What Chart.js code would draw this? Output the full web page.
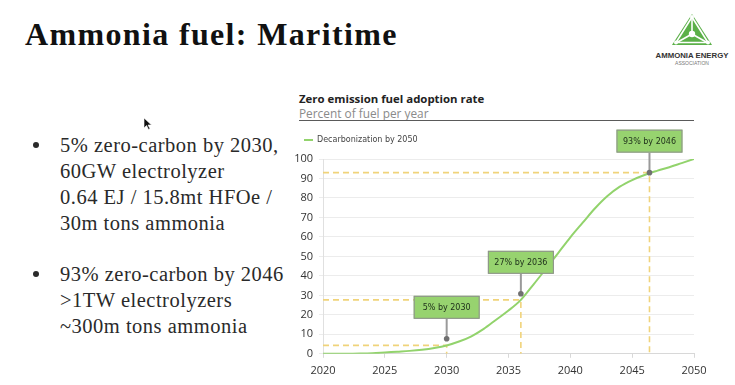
<!DOCTYPE html>
<html>
<head>
<meta charset="utf-8">
<script src="https://cdn.jsdelivr.net/npm/chart.js@4/dist/chart.umd.min.js"></script>
<style>
  html, body { margin:0; padding:0; background:#fff; }
  body { width:735px; height:385px; position:relative; overflow:hidden; }
  #slideTitle { position:absolute; left:25px; top:17px; font-family:"Liberation Serif", serif; font-weight:bold; font-size:32px; color:#111; white-space:nowrap; letter-spacing:1.35px; line-height:34px; }
  .bul { position:absolute; left:60px; font-family:"Liberation Serif", serif; font-size:20.5px; letter-spacing:0.5px; line-height:26px; color:#2a2a2a; white-space:nowrap; }
  .dot { position:absolute; left:33px; width:6px; height:6px; border-radius:50%; background:#2a2a2a; }
  #cTitle { position:absolute; left:299px; top:92px; font-family:"Open Sans", sans-serif; font-weight:bold; font-size:11.4px; line-height:14px; color:#222; white-space:nowrap; }
  #cSub { position:absolute; left:299px; top:105.5px; font-family:"Open Sans", sans-serif; font-size:11.85px; line-height:15px; color:#8a8a8a; white-space:nowrap; }
  #cRule { position:absolute; left:299px; top:120px; width:395px; height:1px; background:#5a5a5a; }
  #chartBox { position:absolute; left:290px; top:85px; width:445px; height:300px; }
  #logo { position:absolute; left:645px; top:8px; }
</style>
</head>
<body>
<div id="slideTitle">Ammonia fuel: Maritime</div>

<div class="dot" style="top:142px"></div>
<div class="bul" style="top:132px">5% zero-carbon by 2030,<br>60GW electrolyzer<br>0.64 EJ / 15.8mt HFOe /<br>30m tons ammonia</div>
<div class="dot" style="top:271px"></div>
<div class="bul" style="top:261px">93% zero-carbon by 2046<br>&gt;1TW electrolyzers<br>~300m tons ammonia</div>

<svg style="position:absolute;left:143px;top:117px" width="10" height="14"><polygon points="1,1 1,11 3.5,8.5 5.5,12.5 7,11.8 5,8 8.5,8" fill="#111" stroke="#fff" stroke-width="0.6"/></svg>

<svg id="logo" width="90" height="62">
  <polygon points="47,6 27,37 67,37" fill="#5bb048"/>
  <g stroke="#fff" stroke-width="1.6" fill="none">
    <line x1="47" y1="9" x2="47" y2="26"/>
    <line x1="31" y1="35" x2="47" y2="26"/>
    <line x1="63" y1="35" x2="47" y2="26"/>
    <polyline points="47,9 31,34.5 63,34.5 47,9"/>
  </g>
  <circle cx="47" cy="26" r="3.2" fill="#fff"/>
  <circle cx="47" cy="9" r="2" fill="#fff"/>
  <circle cx="31" cy="34.5" r="2" fill="#fff"/>
  <circle cx="63" cy="34.5" r="2" fill="#fff"/>
  <text x="47" y="50" text-anchor="middle" font-family="Liberation Sans, sans-serif" font-weight="bold" font-size="7.8" fill="#333">AMMONIA ENERGY</text>
  <text x="47" y="57" text-anchor="middle" font-family="Liberation Sans, sans-serif" font-size="5" fill="#777">ASSOCIATION</text>
</svg>

<div id="cTitle"></div>
<div id="cSub"></div>
<div id="cRule"></div>
<div id="chartBox"><canvas id="c"></canvas></div>

<script>
// ---- data ----
const years = [2020,2021,2022,2023,2024,2025,2026,2027,2028,2029,2030,2031,2032,2033,2034,2035,2036,2037,2038,2039,2040,2041,2042,2043,2044,2045,2046,2047,2048,2049,2050];
const adoption = [0,0,0,0.1,0.3,0.7,1.1,1.5,2.1,3.0,4.3,6.3,9.0,12.8,17.5,22.2,27.7,35.4,43.4,51.6,59.8,67.3,74.7,81.0,85.8,89.2,91.8,93.9,95.8,97.9,100];
const seriesName = "Decarbonization by 2050";
const guideYears = [2030, 2036, 2046.4];
const guideValues = [4.3, 27.7, 93];
const calloutYears = [2030, 2036, 2046.4];
const calloutValues = [7.7, 30.8, 93];
const calloutLabels = ["5% by 2030", "27% by 2036", "93% by 2046"];
const xTicks = [2020, 2025, 2030, 2035, 2040, 2045, 2050];
const yTicks = [0,10,20,30,40,50,60,70,80,90,100];
const chartTitle = "Zero emission fuel adoption rate";
const chartSubtitle = "Percent of fuel per year";

document.getElementById('cTitle').textContent = chartTitle;
document.getElementById('cSub').textContent = chartSubtitle;

const GUIDE = '#f0d37a';
const datasets = [{
  label: seriesName,
  data: years.map((y,i)=>({x:y, y:adoption[i]})),
  borderColor: '#92d36c',
  backgroundColor: '#92d36c',
  borderWidth: 2,
  pointRadius: 0,
  cubicInterpolationMode: 'monotone',
  fill: false,
  order: 0
}];
guideYears.forEach((gx, i) => {
  datasets.push({
    label: 'guide' + i,
    data: [{x: xTicks[0], y: guideValues[i]}, {x: gx, y: guideValues[i]}, {x: gx, y: 0}],
    borderColor: GUIDE, borderWidth: 1.6, borderDash: [6,4],
    pointRadius: 0, tension: 0, fill: false, order: 1
  });
});

const calloutPlugin = {
  id: 'callouts',
  afterDatasetsDraw(chart) {
    const {ctx, scales:{x, y}} = chart;
    ctx.save();
    calloutLabels.forEach((txt, i) => {
      const px = x.getPixelForValue(calloutYears[i]);
      const py = y.getPixelForValue(calloutValues[i]);
      const bw = 66, bh = 23;
      const by = py - 20 - bh;
      ctx.strokeStyle = '#9a9a9a'; ctx.lineWidth = 2;
      ctx.beginPath(); ctx.moveTo(px, by + bh); ctx.lineTo(px, py); ctx.stroke();
      ctx.fillStyle = '#707070';
      ctx.beginPath(); ctx.arc(px, py, 2.8, 0, Math.PI*2); ctx.fill();
      ctx.fillStyle = '#97d36f';
      ctx.fillRect(px - bw/2, by, bw, bh);
      ctx.strokeStyle = '#8e8e8e'; ctx.lineWidth = 1;
      ctx.strokeRect(px - bw/2 + 0.5, by + 0.5, bw - 1, bh - 1);
      ctx.fillStyle = '#1d2e1a';
      ctx.font = '8px "DejaVu Sans"';
      ctx.textAlign = 'center'; ctx.textBaseline = 'middle';
      ctx.fillText(txt, px, by + bh/2 + 0.5);
    });
    ctx.restore();
  }
};

new Chart(document.getElementById('c'), {
  type: 'line',
  data: { datasets },
  plugins: [calloutPlugin],
  options: {
    responsive: true, maintainAspectRatio: false, animation: false,
    layout: { padding: { left: 3, right: 41, top: 40, bottom: 2 } },
    plugins: {
      legend: { display: true, align: 'start',
        labels: { filter: (item) => item.datasetIndex === 0, usePointStyle: true, pointStyle: 'line',
                  pointStyleWidth: 9, color: '#444', padding: 11,
                  font: { family: 'DejaVu Sans', size: 8 } } },
      tooltip: { enabled: false }
    },
    scales: {
      x: { type: 'linear', min: xTicks[0], max: xTicks[xTicks.length-1],
           afterBuildTicks: (s) => { s.ticks = xTicks.map(v => ({value: v})); },
           ticks: { color: '#333', font: { family: 'Open Sans', size: 11 }, padding: 6,
                    callback: (v) => String(v), maxRotation: 0 },
           grid: { drawOnChartArea: false, color: '#d8d8d8', tickLength: 4 },
           border: { color: '#d8d8d8' } },
      gap: { type: 'linear', position: 'top', display: true,
             afterFit: (s) => { s.height = 5; },
             ticks: { display: false }, grid: { display: false }, border: { display: false } },
      y: { min: 0, max: 100,
           afterBuildTicks: (s) => { s.ticks = yTicks.map(v => ({value: v})); },
           afterFit: (s) => { s.width = 30; },
           ticks: { color: '#333', font: { family: 'Open Sans', size: 11 }, padding: 6 },
           grid: { color: '#ececec', tickLength: 4 },
           border: { color: '#e0e0e0' } }
    }
  }
});
</script>
</body>
</html>
